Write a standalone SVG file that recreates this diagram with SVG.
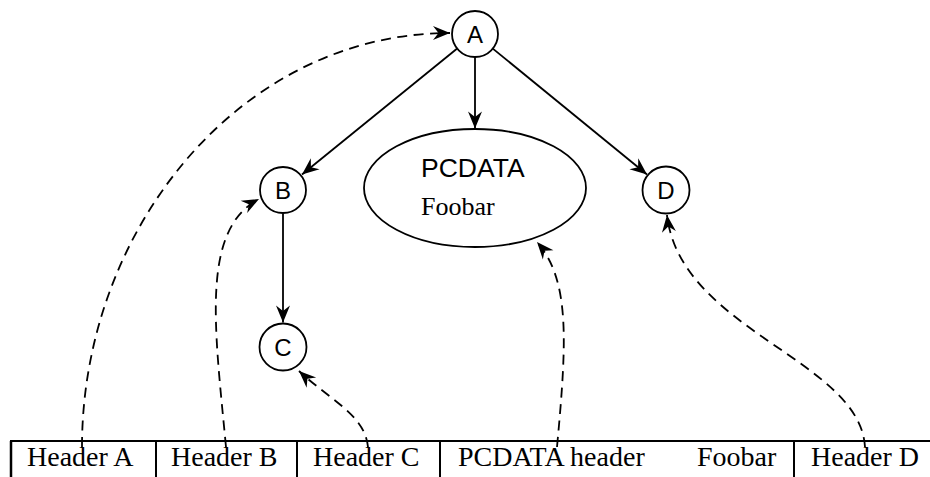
<svg xmlns="http://www.w3.org/2000/svg" width="930" height="477" viewBox="0 0 930 477">
<style>
.node{fill:#fff;stroke:#000;stroke-width:1.8}
.lbl{font-family:"Liberation Sans",Arial,sans-serif;font-size:24px;text-anchor:middle;fill:#000}
.edge{fill:none;stroke:#000;stroke-width:1.8;marker-end:url(#ah)}
.dash{fill:none;stroke:#000;stroke-width:1.8;stroke-dasharray:10,6.5;marker-end:url(#ah)}
.cell{font-family:"Liberation Serif","Times New Roman",serif;font-size:28px;fill:#000}
.grid{stroke:#000;stroke-width:2;fill:none}
</style>
<defs>
<marker id="ah" markerUnits="userSpaceOnUse" markerWidth="22" markerHeight="18" viewBox="-18 -9 20 18" refX="0" refY="0" orient="auto">
<path d="M0,0 L-17,-7 L-11.5,0 L-17,7 Z" fill="#000"/>
</marker>
</defs>
<rect width="930" height="477" fill="#fff"/>
<g id="connectors">
<line class="edge" x1="457.2" y1="48.5" x2="302" y2="174.5"/>
<line class="edge" x1="475" y1="57" x2="475" y2="128.5"/>
<line class="edge" x1="492.8" y1="48.6" x2="647" y2="174.5"/>
<line class="edge" x1="283" y1="213.5" x2="283" y2="322.5"/>
<path class="dash" d="M82,447 C82,230 240,33 450,33"/>
<path class="dash" d="M226,447 C215,330 200,230 259,199"/>
<path class="dash" d="M368,447 C365,415 330,400 299,371"/>
<path class="dash" d="M557,447 C567,340 570,280 537,242"/>
<path class="dash" d="M865,447 C860,360 680,330 667,215"/>
</g>
<g id="node-A">
<circle class="node" cx="475" cy="34" r="23"/>
<text class="lbl" x="475" y="42.5">A</text>
</g>
<g id="node-B">
<circle class="node" cx="283" cy="190" r="23"/>
<text class="lbl" x="283" y="198.5">B</text>
</g>
<g id="node-C">
<circle class="node" cx="283" cy="347" r="23.5"/>
<text class="lbl" x="283" y="355.5">C</text>
</g>
<g id="node-D">
<circle class="node" cx="666" cy="190" r="23.5"/>
<text class="lbl" x="666" y="198.5">D</text>
</g>
<g id="node-PCDATA">
<ellipse class="node" cx="475" cy="188" rx="111" ry="59"/>
<text x="421" y="177" style="font-family:'Liberation Sans',Arial,sans-serif;font-size:26.5px">PCDATA</text>
<text x="421" y="215" style="font-family:'Liberation Serif','Times New Roman',serif;font-size:26px">Foobar</text>
</g>
<g id="table">
<line class="grid" x1="10" y1="441" x2="930" y2="441"/>
<line class="grid" x1="11" y1="441" x2="11" y2="477" style="stroke-width:2.5"/>
<line class="grid" x1="156" y1="441" x2="156" y2="477"/>
<line class="grid" x1="297" y1="441" x2="297" y2="477"/>
<line class="grid" x1="440" y1="441" x2="440" y2="477"/>
<line class="grid" x1="794" y1="441" x2="794" y2="477"/>
<text class="cell" x="27" y="466">Header A</text>
<text class="cell" x="171" y="466">Header B</text>
<text class="cell" x="313" y="466">Header C</text>
<text class="cell" x="458" y="466">PCDATA header</text>
<text class="cell" x="697" y="466">Foobar</text>
<text class="cell" x="811" y="466">Header D</text>
</g>
</svg>
